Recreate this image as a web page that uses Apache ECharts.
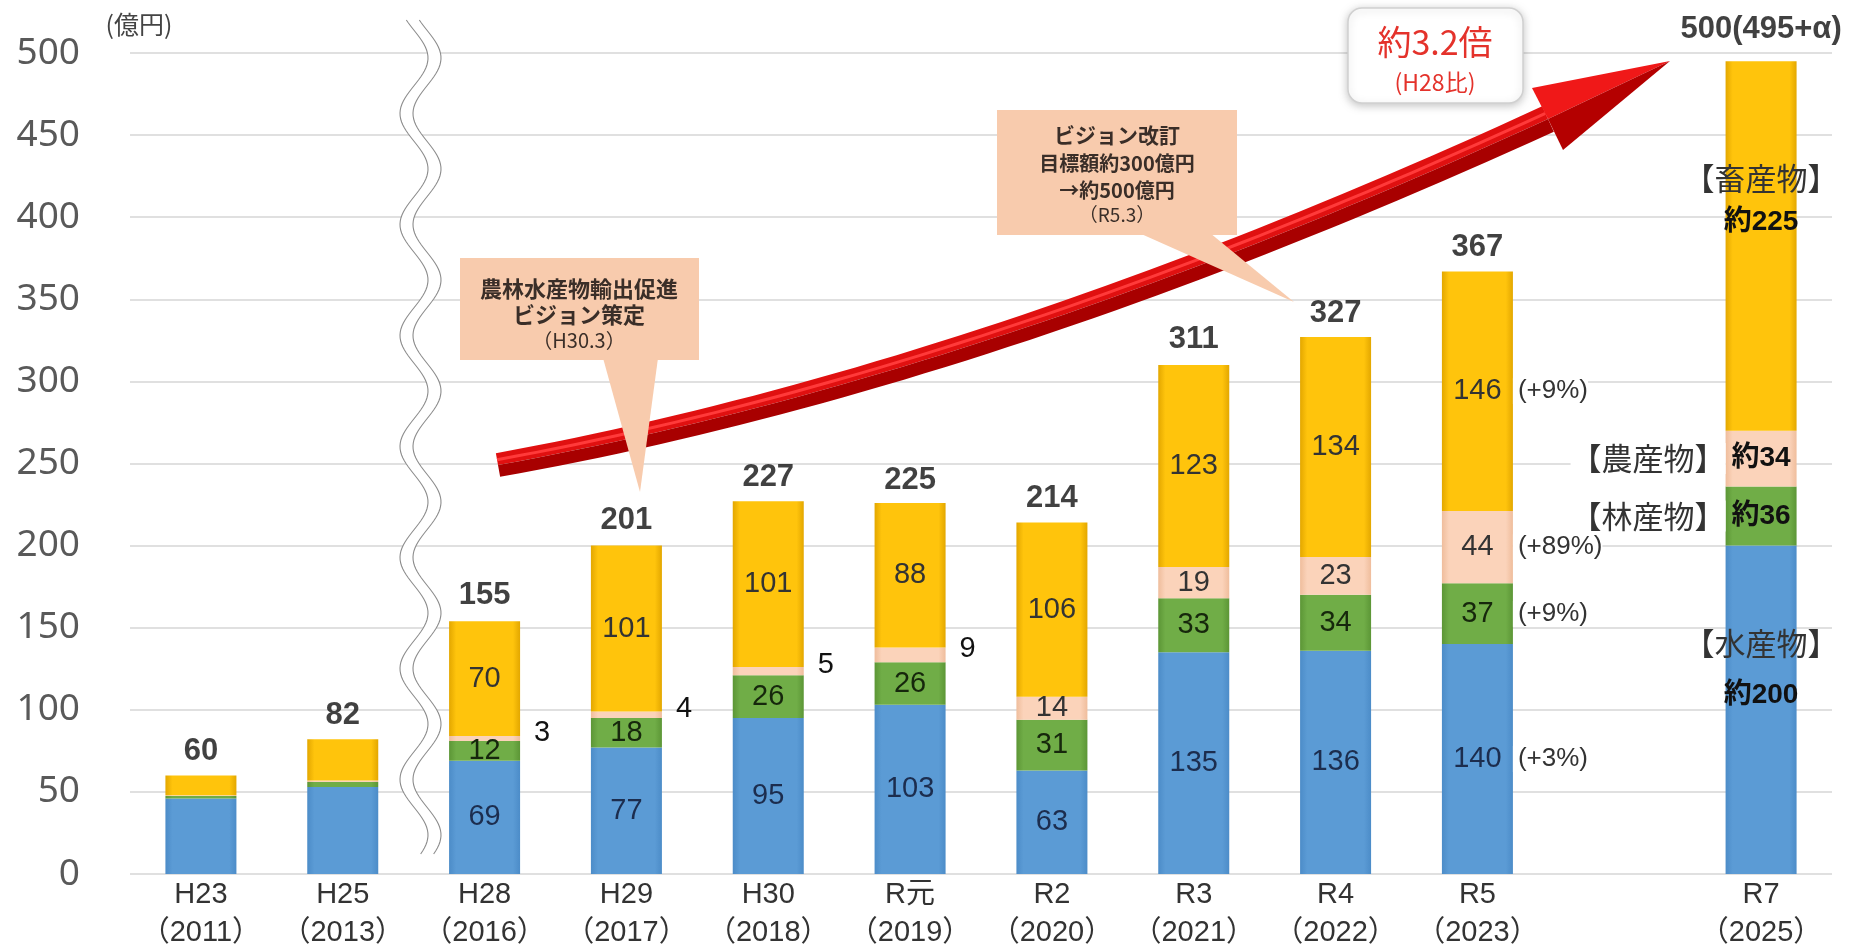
<!DOCTYPE html>
<html>
<head>
<meta charset="utf-8">
<title>農林水産物輸出額の推移</title>
<script src="https://cdn.jsdelivr.net/npm/echarts@6/dist/echarts.min.js"></script>
<style>
html,body{margin:0;padding:0;background:#fff;}
#main{width:1856px;height:950px;}
</style>
</head>
<body>
<div id="main"></div>
<script>
// categories (R6 slot left empty)
var categories = ['H23\n（2011）','H25\n（2013）','H28\n（2016）','H29\n（2017）','H30\n（2018）','R元\n（2019）','R2\n（2020）','R3\n（2021）','R4\n（2022）','R5\n（2023）','','R7\n（2025）'];
// 億円
var suisan   = [46, 53, 69, 77, 95, 103, 63, 135, 136, 140, null, 200];
var rinsan   = [1.5, 3, 12, 18, 26, 26, 31, 33, 34, 37, null, 36];
var nousan   = [0.5, 1, 3, 4, 5, 9, 14, 19, 23, 44, null, 34];
var chikusan = [12, 25, 70, 101, 101, 88, 106, 123, 134, 146, null, 225];
var totals   = [60, 82, 155, 201, 227, 225, 214, 311, 327, 367, null, 500];
var totalR7Text = '500(495+α)';
var r5Growth = ['(+3%)', '(+9%)', '(+89%)', '(+9%)'];
var r7Names  = ['【水産物】', '【林産物】', '【農産物】', '【畜産物】'];
var r7Values = ['約200', '約36', '約34', '約225'];
var yTicks = {min: 0, max: 500, interval: 50};

var NARROW = '"Liberation Sans Narrow","Arial Narrow","Liberation Sans","Noto Sans CJK JP",sans-serif';
var BOLD = '"Liberation Sans","Noto Sans CJK JP",sans-serif';
var JP = '"Noto Sans CJK JP",sans-serif';
var R5 = 9, R7 = 11, BAR_W = 71;
var NUM_SIZE = 29;

function fill(edge, mid){
	return new echarts.graphic.LinearGradient(0,0,1,0,[
		{offset:0,color:edge},{offset:0.1,color:mid},{offset:0.9,color:mid},{offset:1,color:edge}
	]);
}

function segLabel(idx, v, i, textColor){
	if(v == null || i < 2) return {show:false};
	if(i === R7){
		if(idx === 0 || idx === 3){
			var lh = idx === 0 ? 52 : 44;
			return {show:true, position:'inside', offset:[0, idx === 0 ? -41 : -46],
				formatter:'{c|'+r7Names[idx]+'}\n{v|'+r7Values[idx]+'}',
				rich:{c:{fontSize:31,color:'#333',fontFamily:JP,lineHeight:lh},
					v:{fontSize:28,fontWeight:'bold',color:'#111',fontFamily:BOLD,lineHeight:lh}}};
		}
		return {show:true, position:['100%','50%'], align:'right', verticalAlign:'middle',
			formatter:'{c|'+r7Names[idx]+'}{v|'+r7Values[idx]+'}',
			rich:{c:{fontSize:31,color:'#333',fontFamily:JP,backgroundColor:'#fff'},
				v:{width:BAR_W,align:'center',fontSize:28,fontWeight:'bold',color:'#111',fontFamily:BOLD}}};
	}
	if(i === R5){
		return {show:true, position:[0,'50%'], align:'left', verticalAlign:'middle',
			formatter:'{v|'+v+'}{p|'+r5Growth[idx]+'}',
			rich:{v:{width:BAR_W,align:'center',fontSize:NUM_SIZE,fontFamily:NARROW,color:textColor},
				p:{fontSize:26,fontFamily:NARROW,color:'#333',padding:[0,0,0,5],backgroundColor:'#fff'}}};
	}
	if(idx === 2 && v < 10){
		return {show:true, position:'right', distance:14, offset:[0,-6], color:'#111', fontSize:NUM_SIZE, fontFamily:NARROW};
	}
	return {show:true, position:'inside', color:textColor, fontSize:NUM_SIZE, fontFamily:NARROW};
}

function makeSeries(idx, name, values, color, textColor){
	return {
		name:name, type:'bar', stack:'total', barWidth:BAR_W, silent:true,
		itemStyle:{color:color},
		data:values.map(function(v,i){ return {value:v, label:segLabel(idx, v, i, textColor)}; })
	};
}

// wavy break mark between H25 and H28
function wave(off){
	var pts = [];
	for(var y=20;y<=856;y+=3){
		pts.push([414+off+14*Math.cos(2*Math.PI*(y-58)/111), y]);
	}
	return pts;
}
var wl = wave(0), wr = wave(13);

// red arrow (quadratic curve shaft + head)
function arrowParts(){
	var P0=[498,465], P1=[986,377], P2=[1548,119];
	var mid=[], up=[], low=[], hi=[];
	for(var k=0;k<=50;k++){
		var t=k/50, a=(1-t)*(1-t), b=2*t*(1-t), c=t*t;
		var x=a*P0[0]+b*P1[0]+c*P2[0], y=a*P0[1]+b*P1[1]+c*P2[1];
		var dx=2*(1-t)*(P1[0]-P0[0])+2*t*(P2[0]-P1[0]);
		var dy=2*(1-t)*(P1[1]-P0[1])+2*t*(P2[1]-P1[1]);
		var len=Math.sqrt(dx*dx+dy*dy), nx=dy/len, ny=-dx/len;
		var h=12+2*t;
		mid.push([x,y]); up.push([x+nx*h,y+ny*h]); low.push([x-nx*h,y-ny*h]);
		hi.push([x+nx*h*0.45,y+ny*h*0.45]);
	}
	return {
		upper: mid.concat(up.slice().reverse()),
		lower: mid.concat(low.slice().reverse()),
		hi: hi
	};
}
var arrow = arrowParts();
var tip=[1670,61], c1=[1532,88], c2=[1563,150], hm=[1548,119];

function txt(text, x, y, size, color, weight, z){
	return {type:'text', z:z||30, style:{text:text, x:x, y:y, fontSize:size, fontFamily:JP,
		fontWeight:weight||'normal', fill:color, align:'center', verticalAlign:'middle',
		textAlign:'center', textVerticalAlign:'middle'}};
}

var chart = echarts.init(document.getElementById('main'));
var option = {
	backgroundColor:'#fff',
	animation:false,
	grid:{left:130, right:24, top:53, bottom:76, outerBoundsMode:'none'},
	xAxis:{
		type:'category', data:categories,
		axisLine:{show:false}, axisTick:{show:false},
		axisLabel:{interval:0, fontSize:29, lineHeight:38, margin:2, color:'#333', fontFamily:NARROW}
	},
	yAxis:{
		type:'value', min:yTicks.min, max:yTicks.max, interval:yTicks.interval,
		axisLine:{show:false}, axisTick:{show:false},
		axisLabel:{fontSize:37, color:'#595959', fontFamily:'"Noto Sans",sans-serif', margin:50},
		splitLine:{lineStyle:{color:'#e0e0e0', width:2}}
	},
	series:[
		makeSeries(0, '水産物', suisan, fill('#4c8cc8','#5b9bd5'), '#1c2d4e'),
		makeSeries(1, '林産物', rinsan, fill('#5c9636','#70ad47'), '#16270c'),
		makeSeries(2, '農産物', nousan, fill('#efbd9c','#fbd3ba'), '#333'),
		makeSeries(3, '畜産物', chikusan, fill('#e3a700','#ffc40c'), '#333'),
		{
			type:'scatter', data:totals, symbolSize:1, silent:true,
			itemStyle:{color:'rgba(0,0,0,0)'},
			label:{show:true, position:'top', distance:8, fontSize:31, fontWeight:'bold',
				color:'#111', fontFamily:BOLD,
				formatter:function(p){ return p.dataIndex === R7 ? totalR7Text : p.value; }}
		}
	],
	graphic:{elements:[
		txt('(億円)', 139, 24, 25, '#444'),

		{type:'polygon', z:5, silent:true, shape:{points:wl.concat(wr.slice().reverse())}, style:{fill:'#fff'}},
		{type:'polyline', z:6, silent:true, shape:{points:wl}, style:{stroke:'#8c8c8c', lineWidth:1.1, fill:null}},
		{type:'polyline', z:6, silent:true, shape:{points:wr}, style:{stroke:'#8c8c8c', lineWidth:1.1, fill:null}},

		{type:'polygon', z:10, shape:{points:arrow.upper}, style:{fill:'#e01010'}},
		{type:'polygon', z:10, shape:{points:arrow.lower}, style:{fill:'#a80000'}},
		{type:'polyline', z:10, shape:{points:arrow.hi}, style:{stroke:'#ff3a3a', lineWidth:3, fill:null}},
		{type:'polygon', z:11, shape:{points:[c1, tip, hm]}, style:{fill:'#f01818'}},
		{type:'polygon', z:11, shape:{points:[hm, tip, c2]}, style:{fill:'#b40000'}},

		{type:'rect', z:20, shape:{x:460, y:258, width:239, height:102}, style:{fill:'#f8cbad'}},
		{type:'polygon', z:20, shape:{points:[[603,358],[658,358],[640,492]]}, style:{fill:'#f8cbad'}},
		txt('農林水産物輸出促進', 579, 289, 22, '#3a2e28', 'bold'),
		txt('ビジョン策定', 579, 315, 22, '#3a2e28', 'bold'),
		txt('（H30.3）', 579, 340, 20, '#3a2e28'),

		{type:'rect', z:20, shape:{x:997, y:110, width:240, height:125}, style:{fill:'#f8cbad'}},
		{type:'polygon', z:20, shape:{points:[[1139,233],[1210,233],[1294,302]]}, style:{fill:'#f8cbad'}},
		txt('ビジョン改訂', 1117, 135, 21, '#3a2e28', 'bold'),
		txt('目標額約300億円', 1117, 163, 20, '#3a2e28', 'bold'),
		txt('→約500億円', 1117, 190, 20, '#3a2e28', 'bold'),
		txt('（R5.3）', 1117, 215, 19, '#3a2e28'),

		{type:'rect', z:20, shape:{x:1348, y:8, width:175, height:95, r:14},
			style:{fill:'#fff', stroke:'#d0d0d0', lineWidth:1.5, shadowBlur:8, shadowColor:'rgba(0,0,0,0.22)', shadowOffsetY:2}},
		txt('約3.2倍', 1435, 42, 34, '#e4322b'),
		txt('(H28比)', 1435, 82, 23, '#e4322b')
	]}
};
chart.setOption(option);
</script>
</body>
</html>
